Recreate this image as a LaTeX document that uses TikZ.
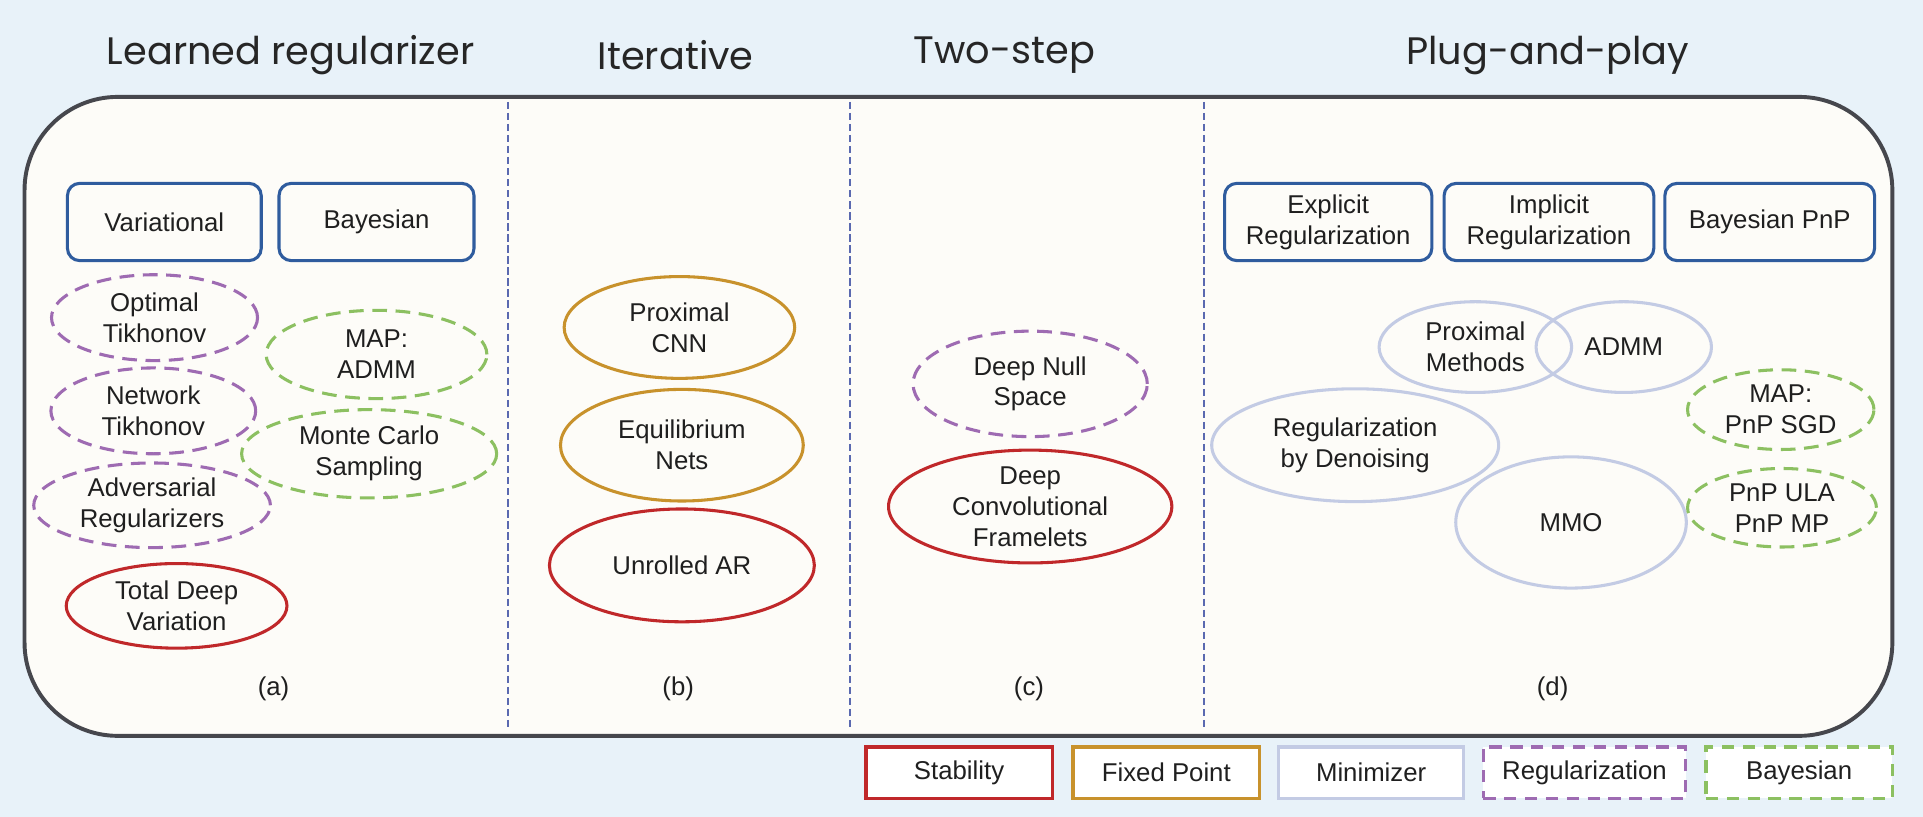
\documentclass[tikz,border=0pt]{standalone}
\usepackage{fontspec}
\setmainfont{Liberation Sans}
\newfontfamily\titlefont{Poppins}
\usetikzlibrary{shapes.geometric}
\definecolor{bg}{HTML}{E8F2F9}
\definecolor{panel}{HTML}{FDFCF8}
\definecolor{framec}{HTML}{46474D}
\definecolor{sepc}{HTML}{5A69B0}
\definecolor{boxblue}{HTML}{2F5C9E}
\definecolor{stabc}{HTML}{C0282A}
\definecolor{fixc}{HTML}{C8922C}
\definecolor{minc}{HTML}{C3CBE4}
\definecolor{regc}{HTML}{9E6BB2}
\definecolor{bayc}{HTML}{8CC061}
\begin{document}
\begin{tikzpicture}[x=0.5pt,y=-0.5pt,
  txt/.style={font=\fontsize{10.5}{12.6}\selectfont, text=black!88, align=center},
  title/.style={font=\titlefont\fontsize{15.6}{18}\selectfont, text=black!85},
  sz/.style 2 args={minimum width=#1*0.5pt, minimum height=#2*0.5pt},
  el/.style={txt, ellipse, inner sep=0pt, line width=1.25pt},
  stab/.style={el, draw=stabc},
  fixp/.style={el, draw=fixc},
  mini/.style={el, draw=minc},
  regu/.style={el, draw=regc, dash pattern=on 6pt off 3.5pt},
  baye/.style={el, draw=bayc, dash pattern=on 6pt off 3.5pt},
  catbox/.style={txt, draw=boxblue, line width=1.25pt, rounded corners=5pt, inner sep=0pt},
  leg/.style={txt, fill=white, line width=1.4pt, inner sep=0pt, sz={#1}{42}},
  sep/.style={draw=sepc, line width=0.9pt, dash pattern=on 3pt off 1.5pt}
]
\fill[bg] (0,0) rectangle (1568,666);
\useasboundingbox (0,0) rectangle (1568,666);

% main frame
\draw[framec, fill=panel, line width=1.6pt, rounded corners=38pt] (20,79) rectangle (1543,600);

% separators
\coordinate (s1t) at (414,83); \coordinate (s1b) at (414,596);
\coordinate (s2t) at (693,83); \coordinate (s2b) at (693,596);
\coordinate (s3t) at (982,83); \coordinate (s3b) at (982,596);
\draw[sep] (s1t) -- (s1b);
\draw[sep] (s2t) -- (s2b);
\draw[sep] (s3t) -- (s3b);

% titles
\node[title] (t1) at (237,45) {Learned regularizer};
\node[title] (t2) at (551,45) {Iterative};
\node[title] (t3) at (819,45) {Two-step};
\node[title] (t4) at (1262,45) {Plug-and-play};

% panel (a)
\node[catbox, sz={158}{63}] (var) at (134,181) {Variational};
\node[catbox, sz={159}{63}] (bay) at (307,181) {Bayesian};
\node[regu, sz={168}{70}] (opt) at (126,259) {Optimal\\Tikhonov};
\node[regu, sz={167}{70}] (net) at (125,335) {Network\\Tikhonov};
\node[regu, sz={193}{69}] (adv) at (124,412) {Adversarial\\Regularizers};
\node[stab, sz={180}{69}] (tdv) at (144,494) {Total Deep\\Variation};
\node[baye, sz={180}{72}] (mapa) at (307,289) {MAP:\\ADMM};
\node[baye, sz={208}{72}] (mc) at (301,370) {Monte Carlo\\Sampling};
\node[txt] (la) at (223,562) {(a)};

% panel (b)
\node[fixp, sz={188}{83}] (pcnn) at (554,267) {Proximal\\CNN};
\node[fixp, sz={198}{91}] (eq) at (556,363) {Equilibrium\\Nets};
\node[stab, sz={216}{92}] (uar) at (556,461) {Unrolled AR};
\node[txt] (lb) at (553,562) {(b)};

% panel (c)
\node[regu, sz={191}{86}] (dns) at (840,313) {Deep Null\\Space};
\node[stab, sz={231}{86}] (dcf) at (840,413) {Deep\\Convolutional\\Framelets};
\node[txt] (lc) at (839,562) {(c)};

% panel (d)
\node[catbox, sz={169}{63}] (expl) at (1083,181) {Explicit\\Regularization};
\node[catbox, sz={171}{63}] (impl) at (1263,181) {Implicit\\Regularization};
\node[catbox, sz={171}{63}] (bpnp) at (1443,181) {Bayesian PnP};
\node[mini, sz={157}{74}] (prox) at (1203,283) {Proximal\\Methods};
\node[mini, sz={143}{74}] (admm) at (1324,283) {ADMM};
\node[mini, sz={234}{92}] (red) at (1105,363) {Regularization\\by Denoising};
\node[mini, sz={188}{107}] (mmo) at (1281,426) {MMO};
\node[baye, sz={152}{65}] (sgd) at (1452,334) {MAP:\\PnP SGD};
\node[baye, sz={154}{64}] (ula) at (1453,414) {PnP ULA\\PnP MP};
\node[txt] (ld) at (1266,562) {(d)};

% legend
\node[leg={152}, draw=stabc] (lg1) at (782,630) {Stability};
\node[leg={152}, draw=fixc] (lg2) at (951,630) {Fixed Point};
\node[leg={151}, draw=minc] (lg3) at (1118,630) {Minimizer};
\node[leg={165}, draw=regc, dash pattern=on 5pt off 3.5pt] (lg4) at (1292,630) {Regularization};
\node[leg={152}, draw=bayc, dash pattern=on 5pt off 3.5pt] (lg5) at (1467,630) {Bayesian};
\end{tikzpicture}
\end{document}
